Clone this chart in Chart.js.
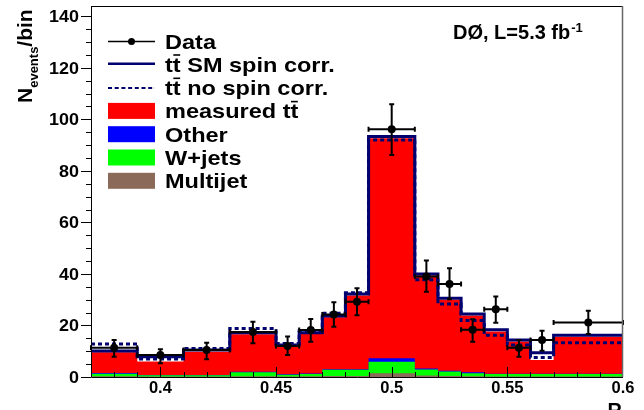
<!DOCTYPE html>
<html>
<head>
<meta charset="utf-8">
<script src="https://cdn.jsdelivr.net/npm/chart.js@4.4.0/dist/chart.umd.min.js"></script>
<style>
  html, body { margin: 0; padding: 0; background: #fff; }
  #wrap { width: 644px; height: 410px; position: relative; }
</style>
</head>
<body>
<div id="wrap"><canvas id="c"></canvas></div>
<script>
// --- Bin edges in R ---
const binEdges = [0.37, 0.39, 0.41, 0.43, 0.45, 0.46, 0.47, 0.48, 0.49, 0.51, 0.52, 0.53, 0.54, 0.55, 0.56, 0.57, 0.60];

// --- Stacked components (events/bin) ---
const multijet   = [0.3, 0.2, 0.2, 0.3, 0.2, 0.3, 0.4, 0.4, 1.5, 0.6, 0.4, 0.3, 0.2, 0.2, 0.2, 0.2];
const wjets      = [1.0, 0.5, 0.5, 1.5, 0.7, 0.9, 2.4, 2.4, 4.4, 2.3, 1.7, 1.2, 1.0, 1.0, 1.0, 1.0];
const other      = [0.3, 0.1, 0.1, 0.2, 0.2, 0.2, 0.2, 0.2, 1.4, 0.4, 0.3, 0.3, 0.1, 0.1, 0.1, 0.1];
const ttMeasured = [8.0, 5.2, 9.0, 14.6, 10.8, 15.3, 20.2, 28.6, 85.4, 36.1, 27.6, 22.1, 16.4, 12.5, 5.3, 14.3];

// --- Predictions (total) ---
const ttSM     = [10.1, 7.9, 10.5, 17.2, 12.4, 17.2, 23.7, 32.2, 93.3, 40.0, 30.6, 24.5, 18.3, 14.4, 9.4, 16.2];
const ttNoSpin = [12.8, 7.0, 11.1, 18.8, 13.0, 18.0, 24.7, 32.7, 92.0, 37.7, 28.3, 21.9, 16.2, 12.4, 7.6, 13.3];

// --- Data ---
const dataVals    = [11.4, 8.5, 10.5, 17.5, 12.0, 18.2, 24.3, 29.2, 96.2, 39.0, 36.1, 18.3, 26.3, 11.4, 14.4, 21.2];
const dataErrUp   = [3.0, 2.3, 2.8, 3.9, 3.7, 4.3, 4.7, 5.2, 9.7, 6.2, 6.1, 4.1, 4.9, 3.0, 3.6, 4.5];
const dataErrDown = [3.5, 3.2, 3.6, 4.4, 3.5, 4.5, 4.8, 5.2, 10.0, 5.9, 5.9, 4.6, 5.2, 3.5, 4.2, 4.5];

// --- Axis ticks ---
const xTickLabels = [0.4, 0.45, 0.5, 0.55, 0.6];
const yTickLabels = [0, 20, 40, 60, 80, 100, 120, 140];

const FONT = '"Liberation Sans", Arial, Helvetica, sans-serif';
const NAVY = '#00006e';

// --- Helpers ---
const cum = (...arrs) => arrs[0].map((_, i) => arrs.reduce((s, a) => s + a[i], 0));
const step = vals => binEdges.map((x, i) => ({x, y: vals[Math.min(i, vals.length - 1)]}));
const centers = binEdges.slice(0, -1).map((e, i) => (e + binEdges[i + 1]) / 2);

const cMJ = cum(multijet);
const cWJ = cum(multijet, wjets);
const cOT = cum(multijet, wjets, other);
const cTT = cum(multijet, wjets, other, ttMeasured);

function txt(ctx, s, x, y, size, o = {}) {
    ctx.save();
    ctx.font = `bold ${size}px ${FONT}`;
    ctx.textAlign = o.align || 'left';
    ctx.textBaseline = 'alphabetic';
    ctx.fillStyle = '#000';
    ctx.translate(x, y);
    if (o.rot) ctx.rotate(o.rot);
    ctx.scale(o.sx || 1, o.sy || 1);
    ctx.fillText(s, 0, 0);
    const w = ctx.measureText(s).width * (o.sx || 1);
    ctx.restore();
    return w;
}

// t t-bar, returns width
function ttbar(ctx, x, y, size, sx) {
    const w1 = txt(ctx, 't', x, y, size, {sx});
    const w2 = txt(ctx, 't', x + w1, y, size, {sx});
    ctx.save();
    ctx.strokeStyle = '#000';
    ctx.lineWidth = 1.6;
    ctx.beginPath();
    ctx.moveTo(x + w1 + 0.5, y - 0.8 * size);
    ctx.lineTo(x + w1 + w2 - 0.5, y - 0.8 * size);
    ctx.stroke();
    ctx.restore();
    return w1 + w2;
}

// --- Plugin: error bars, axes, legend, labels ---
const histPlugin = {
    id: 'hist',
    afterDatasetsDraw(chart) {
        const {ctx, scales: {x, y}} = chart;
        ctx.save();
        ctx.strokeStyle = '#000';
        ctx.lineWidth = 2;
        const cap = 2.5;
        dataVals.forEach((v, i) => {
            const px = x.getPixelForValue(centers[i]);
            const py = y.getPixelForValue(v);
            const xl = x.getPixelForValue(binEdges[i]);
            const xr = x.getPixelForValue(binEdges[i + 1]);
            const yt = y.getPixelForValue(v + dataErrUp[i]);
            const yb = y.getPixelForValue(v - dataErrDown[i]);
            ctx.beginPath();
            ctx.moveTo(xl, py); ctx.lineTo(xr, py);
            ctx.moveTo(px, yt); ctx.lineTo(px, yb);
            ctx.moveTo(xl, py - cap); ctx.lineTo(xl, py + cap);
            ctx.moveTo(xr, py - cap); ctx.lineTo(xr, py + cap);
            ctx.moveTo(px - cap, yt); ctx.lineTo(px + cap, yt);
            ctx.moveTo(px - cap, yb); ctx.lineTo(px + cap, yb);
            ctx.stroke();
        });
        ctx.restore();
    },
    afterDraw(chart) {
        const {ctx, chartArea: a, scales: {x, y}} = chart;
        ctx.save();
        // frame
        ctx.lineWidth = 1;
        ctx.strokeStyle = '#000';
        ctx.beginPath();
        ctx.moveTo(a.left + 0.5, a.top + 0.5);
        ctx.lineTo(a.right - 0.5, a.top + 0.5);
        ctx.moveTo(a.left + 0.5, a.top);
        ctx.lineTo(a.left + 0.5, a.bottom + 0.5);
        ctx.lineTo(a.right, a.bottom + 0.5);
        ctx.stroke();
        ctx.strokeStyle = '#666';
        ctx.lineWidth = 1.5;
        ctx.beginPath();
        ctx.moveTo(a.right - 0.5, a.top);
        ctx.lineTo(a.right - 0.5, a.bottom);
        ctx.stroke();

        // x ticks (inside), minor every 0.01
        ctx.strokeStyle = '#000';
        ctx.lineWidth = 1;
        ctx.beginPath();
        for (let k = 38; k <= 59; k++) {
            const v = k / 100;
            const px = Math.round(x.getPixelForValue(v)) + 0.5;
            const len = (k % 5 === 0) ? 10 : 5;
            ctx.moveTo(px, a.bottom);
            ctx.lineTo(px, a.bottom - len);
        }
        // y ticks (outside), minor every 5
        for (let v = 0; v <= 140; v += 5) {
            const py = Math.round(y.getPixelForValue(v)) + 0.5;
            const len = (v % 20 === 0) ? 10 : 5;
            ctx.moveTo(a.left, py);
            ctx.lineTo(a.left - len, py);
        }
        ctx.stroke();
        ctx.restore();

        // tick labels
        xTickLabels.forEach(v => {
            txt(ctx, String(v), x.getPixelForValue(v), 393, 16.5, {align: 'center'});
        });
        yTickLabels.forEach(v => {
            txt(ctx, String(v), 79, y.getPixelForValue(v) + 5.8, 16, {align: 'right', sx: 1.12});
        });

        // axis titles
        txt(ctx, 'R', 622, 417, 20, {align: 'right'});
        ctx.save();
        ctx.translate(32, 103);
        ctx.rotate(-Math.PI / 2);
        let w = txt(ctx, 'N', 0, 0, 21);
        w += txt(ctx, 'events', w, 6, 13);
        txt(ctx, '/bin', w, 0, 21);
        ctx.restore();

        // experiment label
        const wl = txt(ctx, 'D\u00d8, L=5.3 fb', 453, 39, 20);
        txt(ctx, '-1', 453 + wl + 1, 32, 13);

        // legend
        const LX0 = 108, LX1 = 155, TX = 165, FS = 21, SX = 1.12;
        const row = i => 48.5 + 23.3 * i;
        ctx.save();
        // Data
        let cy = row(0) - 7;
        ctx.strokeStyle = '#000';
        ctx.lineWidth = 1.5;
        ctx.beginPath(); ctx.moveTo(LX0, cy); ctx.lineTo(LX1, cy); ctx.stroke();
        ctx.fillStyle = '#000';
        ctx.beginPath(); ctx.arc((LX0 + LX1) / 2, cy, 3.5, 0, Math.PI * 2); ctx.fill();
        txt(ctx, 'Data', TX, row(0), FS, {sx: SX});
        // SM
        cy = row(1) - 8;
        ctx.strokeStyle = NAVY; ctx.lineWidth = 2.5;
        ctx.beginPath(); ctx.moveTo(LX0, cy); ctx.lineTo(LX1, cy); ctx.stroke();
        w = ttbar(ctx, TX, row(1), FS, SX);
        txt(ctx, ' SM spin corr.', TX + w, row(1), FS, {sx: SX});
        // no spin
        cy = row(2) - 7;
        ctx.setLineDash([4, 2.7]);
        ctx.lineWidth = 2;
        ctx.beginPath(); ctx.moveTo(LX0, cy); ctx.lineTo(LX1, cy); ctx.stroke();
        ctx.setLineDash([]);
        w = ttbar(ctx, TX, row(2), FS, SX);
        txt(ctx, ' no spin corr.', TX + w, row(2), FS, {sx: SX});
        // boxes
        const boxes = [['#ff0000', 'measured '], ['#0000ff', 'Other'], ['#00ff00', 'W+jets'], ['#8c6a5a', 'Multijet']];
        boxes.forEach(([col, label], j) => {
            const r = row(3 + j);
            ctx.fillStyle = col;
            ctx.fillRect(LX0, r - 15.5, LX1 - LX0, 16);
            const wt = txt(ctx, label, TX, r, FS, {sx: SX});
            if (j === 0) ttbar(ctx, TX + wt, r, FS, SX);
        });
        ctx.restore();
    }
};

const lineDs = (label, vals, color, fill, order) => ({
    label, data: step(vals), stepped: true, fill: fill ? 'origin' : false,
    backgroundColor: color, borderColor: color, borderWidth: 0,
    pointRadius: 0, order
});

new Chart(document.getElementById('c'), {
    type: 'line',
    data: {
        datasets: [
            {
                label: 'Data',
                data: centers.map((c, i) => ({x: c, y: dataVals[i]})),
                showLine: false, pointRadius: 4, pointBackgroundColor: '#000',
                pointBorderColor: '#000', pointBorderWidth: 0, order: 0
            },
            {
                label: 'tt SM spin corr.', data: step(ttSM), stepped: true, fill: false,
                borderColor: NAVY, borderWidth: 3, pointRadius: 0, order: 1
            },
            {
                label: 'tt no spin corr.', data: step(ttNoSpin), stepped: true, fill: false,
                borderColor: NAVY, borderWidth: 3, borderDash: [4, 3], pointRadius: 0, order: 2
            },
            lineDs('Multijet', cMJ, '#8c6a5a', true, 3),
            lineDs('W+jets', cWJ, '#00ff00', true, 4),
            lineDs('Other', cOT, '#0000ff', true, 5),
            lineDs('measured tt', cTT, '#ff0000', true, 6)
        ]
    },
    options: {
        responsive: true,
        maintainAspectRatio: false,
        animation: false,
        devicePixelRatio: 1,
        layout: {padding: {left: 91, right: 21, top: 6, bottom: 33}},
        plugins: {legend: {display: false}, tooltip: {enabled: false}},
        scales: {
            x: {type: 'linear', min: 0.37, max: 0.6, display: false},
            y: {type: 'linear', min: 0, max: 144, display: false}
        }
    },
    plugins: [histPlugin]
});
</script>
</body>
</html>
